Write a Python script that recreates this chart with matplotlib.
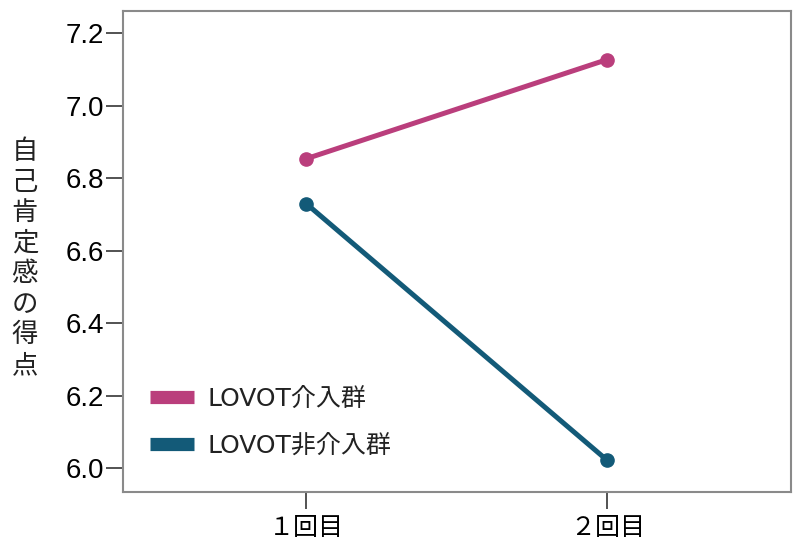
import matplotlib
matplotlib.use("Agg")
import matplotlib.pyplot as plt

plt.rcParams['font.family'] = ['Noto Sans CJK JP', 'DejaVu Sans']

# データ
回数 = ['１回目', '２回目']
介入群 = [6.854, 7.128]
非介入群 = [6.730, 6.021]
系列名 = ['LOVOT介入群', 'LOVOT非介入群']
色 = ['#BA3E7C', '#135A78']
y目盛 = [6.0, 6.2, 6.4, 6.6, 6.8, 7.0, 7.2]

fig = plt.figure(figsize=(8, 5.5), dpi=100)
ax = fig.add_axes([0.154, 0.105, 0.835, 0.875])

x = list(range(1, len(回数) + 1))
for vals, name, c in zip([介入群, 非介入群], 系列名, 色):
    ax.plot(x, vals, color=c, lw=3.6, marker='o', ms=9.5, label=name,
            solid_capstyle='round')

ax.set_xlim(0.392, 2.611)
ax.set_ylim(5.933, 7.262)
ax.set_xticks(x)
ax.set_xticklabels(回数, fontsize=18)
ax.set_yticks(y目盛)
ax.set_yticklabels([f'{v:.1f}' for v in y目盛], fontsize=20,
                   family=['Liberation Sans', 'DejaVu Sans'])

for s in ax.spines.values():
    s.set_color('#8a8a8a')
    s.set_linewidth(1.5)
ax.tick_params(axis='both', length=12.5, width=1.3, color='#444444')
ax.tick_params(axis='y', pad=1)
ax.tick_params(axis='x', pad=4)

# 縦書きの軸ラベル
fig.text(0.031, 0.53, '\n'.join('自己肯定感の得点'), fontsize=19,
         ha='center', va='center', linespacing=1.17, color='#222222')

leg = ax.legend(loc='lower left', bbox_to_anchor=(0.04, 0.072), frameon=False,
                borderpad=0, borderaxespad=0,
                prop={'family': ['DejaVu Sans', 'Noto Sans CJK JP'], 'size': 18},
                handlelength=1.75, labelspacing=0.9, handletextpad=0.55)
for h in leg.get_lines():
    h.set_linewidth(9.5)
    h.set_marker('')
    h.set_solid_capstyle('butt')
for t in leg.get_texts():
    t.set_color('#222222')

fig.savefig('out.png', dpi=100)
